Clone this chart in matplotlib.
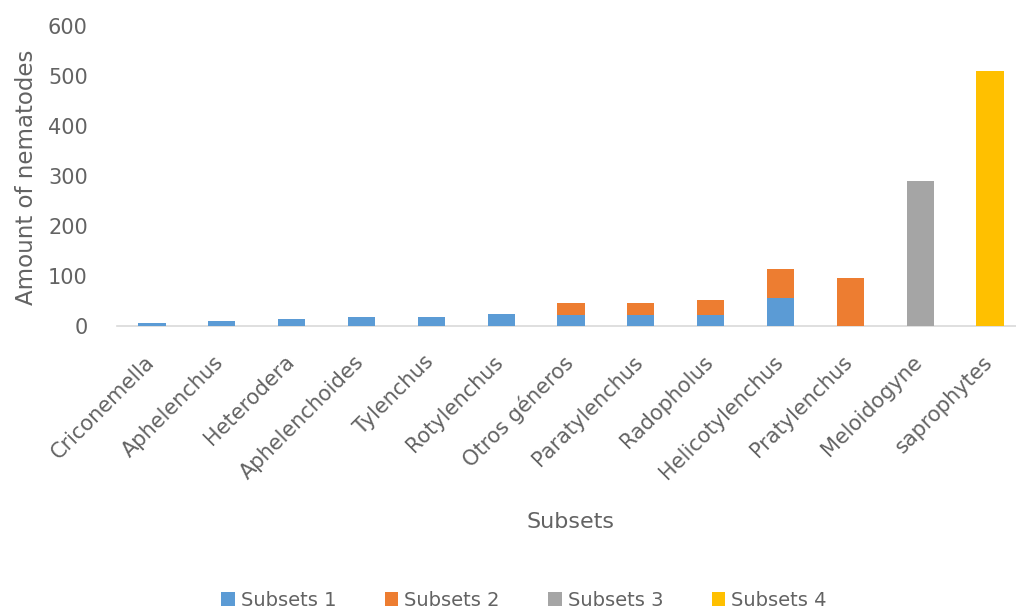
import matplotlib
matplotlib.use("Agg")
import matplotlib.pyplot as plt
import matplotlib.transforms as mtransforms
import numpy as np

genera = ["Criconemella", "Aphelenchus", "Heterodera", "Aphelenchoides",
          "Tylenchus", "Rotylenchus", "Otros géneros", "Paratylenchus",
          "Radopholus", "Helicotylenchus", "Pratylenchus", "Meloidogyne",
          "saprophytes"]
subset1 = [6, 10, 14, 19, 19, 24, 22, 22, 22, 57, 0, 0, 0]
subset2 = [0, 0, 0, 0, 0, 0, 24, 24, 30, 58, 96, 0, 0]
subset3 = [0, 0, 0, 0, 0, 0, 0, 0, 0, 0, 0, 290, 0]
subset4 = [0, 0, 0, 0, 0, 0, 0, 0, 0, 0, 0, 0, 510]
series_names = ["Subsets 1", "Subsets 2", "Subsets 3", "Subsets 4"]
y_ticks = [0, 100, 200, 300, 400, 500, 600]

colors = ["#5B9BD5", "#ED7D31", "#A5A5A5", "#FFC000"]
text_color = "#636363"
plt.rcParams["font.family"] = ["DejaVu Sans"]

W, H = 1016, 612
fig = plt.figure(figsize=(W / 100, H / 100), dpi=100)
left, right, top, bottom = 117, 1025, 26, 326
ax = fig.add_axes([left / W, 1 - bottom / H, (right - left) / W, (bottom - top) / H])

x = np.arange(len(genera))
base = np.zeros(len(genera))
handles = []
for vals, col, name in zip([subset1, subset2, subset3, subset4], colors, series_names):
    vals = np.array(vals, dtype=float)
    b = ax.bar(x, vals, width=0.39, bottom=base, color=col, label=name, zorder=3)
    handles.append(b)
    base += vals

ax.set_xlim(-0.5, len(genera) - 0.5)
ax.set_ylim(0, 600)
ax.set_yticks(y_ticks)
ax.set_yticklabels([str(t) for t in y_ticks], fontsize=15, color=text_color)
ax.set_xticks(x)
ax.set_xticklabels(genera, rotation=45, ha="right", rotation_mode="anchor",
                   fontsize=15, color=text_color)
ax.tick_params(axis="both", length=0)
ax.tick_params(axis="y", pad=21)
ax.tick_params(axis="x", pad=12)

# nudge the slanted category labels a little left and down
shift = mtransforms.ScaledTranslation(-8 / 100, -9 / 100, fig.dpi_scale_trans)
for lbl in ax.get_xticklabels():
    lbl.set_transform(lbl.get_transform() + shift)

for s in ["top", "right", "left"]:
    ax.spines[s].set_visible(False)
ax.spines["bottom"].set_color("#D9D9D9")
ax.spines["bottom"].set_linewidth(1.2)

fig.text(27 / W, 1 - 177 / H, "Amount of nematodes", rotation=90, ha="center",
         va="center", fontsize=16.5, color=text_color)
fig.text(571 / W, 1 - 522 / H, "Subsets", ha="center", va="center",
         fontsize=16, color=text_color)

fig.legend(handles=handles, labels=series_names, loc="center",
           bbox_to_anchor=(524 / W, 1 - 600 / H), ncol=4, frameon=False,
           fontsize=14, handlelength=0.7, handleheight=0.7, handletextpad=0.3,
           columnspacing=2.5, labelcolor=text_color)

fig.savefig("out.png", dpi=100, facecolor="white")
